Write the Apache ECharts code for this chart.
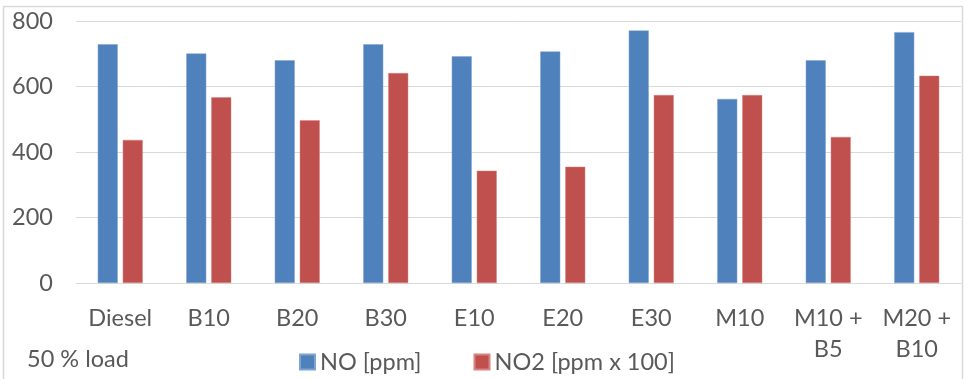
<!DOCTYPE html>
<html>
<head>
<meta charset="utf-8">
<script src="https://cdn.jsdelivr.net/npm/echarts@6/dist/echarts.min.js"></script>
<style>
html,body{margin:0;padding:0;background:#fff;}
#chart{width:968px;height:379px;}
</style>
</head>
<body>
<div id="chart"></div>
<script>
const categories = ['Diesel', 'B10', 'B20', 'B30', 'E10', 'E20', 'E30', 'M10', 'M10 +\nB5', 'M20 +\nB10'];
const noValues = [729, 701, 680, 729, 692, 707, 771, 562, 680, 766];
const no2Values = [437, 567, 497, 641, 343, 355, 574, 574, 446, 633];
const yTicks = [0, 200, 400, 600, 800];

const FONT = 'Lato';
const TXT = '#595959';
const chart = echarts.init(document.getElementById('chart'));
chart.setOption({
  animation: false,
  backgroundColor: '#fff',
  textStyle: { fontFamily: FONT },
  title: {
    text: '50 % load',
    left: 22,
    top: 342,
    textStyle: { fontFamily: FONT, fontSize: 23.5, fontWeight: 'normal', color: TXT }
  },
  legend: {
    left: 294,
    top: 345,
    itemWidth: 15,
    itemHeight: 15,
    itemGap: 52,
    icon: 'rect',
    textStyle: { fontFamily: FONT, fontSize: 23.5, color: TXT },
    data: ['NO [ppm]', 'NO2 [ppm x 100]']
  },
  graphic: [{
    type: 'rect',
    shape: { x: 3.5, y: 6.5, width: 959, height: 380 },
    style: { fill: 'none', stroke: '#d9d9d9', lineWidth: 1.5 },
    silent: true
  }],
  grid: { left: 76, right: 7, top: 21, bottom: 96, containLabel: false },
  xAxis: {
    type: 'category',
    data: categories,
    axisTick: { show: false },
    axisLine: { lineStyle: { color: '#d9d9d9', width: 1 } },
    axisLabel: { color: TXT, fontFamily: FONT, fontSize: 23.5, lineHeight: 31, margin: 20, interval: 0 }
  },
  yAxis: {
    type: 'value',
    min: 0,
    max: 800,
    interval: 200,
    axisLine: { show: false },
    axisTick: { show: false },
    splitLine: { lineStyle: { color: '#d9d9d9', width: 1 } },
    axisLabel: {
      color: TXT, fontFamily: FONT, fontSize: 23.5, margin: 23,
      formatter: v => yTicks.includes(v) ? String(v) : ''
    }
  },
  series: [
    {
      name: 'NO [ppm]',
      type: 'bar',
      data: noValues,
      barWidth: 20,
      barGap: '25%',
      itemStyle: { color: '#4f81bd', borderColor: '#7fa3d1', borderWidth: 0.5 }
    },
    {
      name: 'NO2 [ppm x 100]',
      type: 'bar',
      data: no2Values,
      barWidth: 20,
      barGap: '25%',
      itemStyle: { color: '#c0504d', borderColor: '#d68482', borderWidth: 0.5 }
    }
  ]
});
</script>
</body>
</html>
